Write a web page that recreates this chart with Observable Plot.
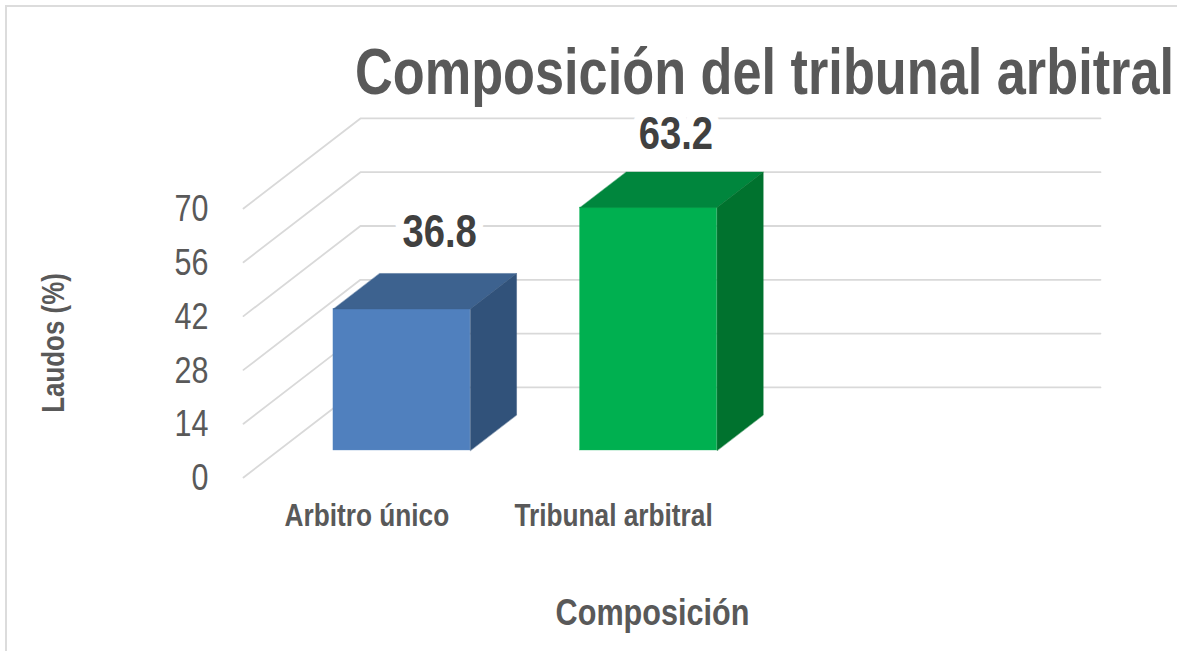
<!DOCTYPE html>
<html>
<head>
<meta charset="utf-8">
<script src="https://cdn.jsdelivr.net/npm/d3@7"></script>
<script src="https://cdn.jsdelivr.net/npm/@observablehq/plot@0.6"></script>
<style>
html,body{margin:0;padding:0;background:#fff;width:1177px;height:651px;overflow:hidden}
#wrap{position:relative;width:1177px;height:651px;font-family:"Liberation Sans",Arial,sans-serif}
#frame{position:absolute;left:5px;top:5px;right:0;bottom:0;border-top:2px solid #dcdcdc;border-left:2px solid #dcdcdc;pointer-events:none}
#title{position:absolute;left:0;top:0;width:1177px;height:100px;margin:0;font-weight:700;font-size:65px;line-height:1;color:#595959;white-space:nowrap}
#title span{position:absolute;left:355px;top:39px;transform-origin:0 50%}
#chart{position:absolute;left:0;top:100px}
svg{display:block}
</style>
</head>
<body>
<div id="wrap">
  <div id="frame"></div>
  <h1 id="title"><span>Composición del tribunal arbitral</span></h1>
  <div id="chart"></div>
</div>
<script>
const categories = ["Arbitro único", "Tribunal arbitral"];
const values = [36.8, 63.2];
const yTicks = [0, 14, 28, 42, 56, 70];
const xTicks = [0, 1];
const frontColors = ["#5080be", "#00b050"];
const topColors = ["#3d628f", "#00863d"];
const sideColors = ["#31527a", "#00722e"];

// oblique projection of the 3D box: one unit of depth in x (slots) and y (percent)
const depthX = 0.474, depthY = 23.44;
const slotStart = -0.5, slotEnd = 2.5;
const barWidth = 0.555, barFront = 0.3, barBack = 0.695;
const labelShift = [0.059, 0.017];
const labelLift = [0.8, 0];
const project = (x, v, d) => ({px: x + d * depthX, py: v + d * depthY});

const grid = yTicks.flatMap(t => [
  {t, ...project(slotStart, t, 0)},
  {t, ...project(slotStart, t, 1)},
  {t, ...project(slotEnd, t, 1)}
]);

const bars = values.map((v, i) => ({
  i, v,
  xa: i - barWidth / 2,
  xb: i + barWidth / 2
}));

const front = bars.map(({i, v, xa, xb}) => ({
  x1: project(xa, 0, barFront).px, x2: project(xb, 0, barFront).px,
  y1: project(xa, 0, barFront).py, y2: project(xa, v, barFront).py,
  fill: frontColors[i]
}));
const topFace = bars.flatMap(({i, v, xa, xb}) => [
  project(xa, v, barFront), project(xb, v, barFront),
  project(xb, v, barBack), project(xa, v, barBack)
].map(p => ({...p, i, fill: topColors[i]})));
const sideFace = bars.flatMap(({i, v, xb}) => [
  project(xb, 0, barFront), project(xb, v, barFront),
  project(xb, v, barBack), project(xb, 0, barBack)
].map(p => ({...p, i, fill: sideColors[i]})));
const labels = bars.map(({i, v}) => ({
  px: project(i + labelShift[i], v, (barFront + barBack) / 2).px,
  py: project(i, v + labelLift[i], barBack).py,
  text: v.toFixed(1)
}));

const chart = Plot.plot({
  width: 1177,
  height: 551,
  marginLeft: 243,
  marginRight: 116,
  marginTop: 108,
  marginBottom: 174,
  style: {background: "transparent", fontFamily: '"Liberation Sans",Arial,sans-serif', overflow: "visible"},
  x: {domain: [slotStart, 2.816], axis: null},
  y: {domain: [0, 70], axis: null},
  color: {type: "identity"},
  marks: [
    Plot.line(grid, {x: "px", y: "py", z: "t", stroke: "#d9d9d9", strokeWidth: 1.8}),
    Plot.rect(front, {x1: "x1", x2: "x2", y1: "y1", y2: "y2", fill: "fill", stroke: "fill", strokeWidth: 0.4}),
    Plot.line(topFace, {x: "px", y: "py", z: "i", fill: "fill", stroke: "fill", strokeWidth: 0.4, curve: "linear-closed"}),
    Plot.line(sideFace, {x: "px", y: "py", z: "i", fill: "fill", stroke: "fill", strokeWidth: 0.4, curve: "linear-closed"}),
    Plot.text(labels, {x: "px", y: "py", text: "text", dy: -38, fontSize: 46, fontWeight: 700, fill: "#404040", stroke: "white", strokeWidth: 20, paintOrder: "stroke"}),
    Plot.axisY({ticks: yTicks, tickSize: 0, tickPadding: 35, dy: 1, fontSize: 36.5, fill: "#595959", label: null}),
    Plot.axisY({ticks: [], tickSize: 0, label: "Laudos (%)", labelArrow: "none", labelAnchor: "center", labelOffset: 202, fontSize: 31, fontWeight: 700, fill: "#595959"}),
    Plot.axisX({ticks: xTicks, tickSize: 0, tickPadding: 26, tickFormat: i => categories[i], fontSize: 32, fontWeight: 700, fill: "#595959", label: null}),
    Plot.axisX({ticks: [], tickSize: 0, label: "Composición", labelArrow: "none", labelAnchor: "center", labelOffset: 147, fontSize: 36, fontWeight: 700, fill: "#595959"})
  ]
});
document.getElementById("chart").appendChild(chart);

// the reference's type is condensed: squeeze glyphs horizontally, by font size
const squeeze = {46: 0.83, 36.5: 0.835, 32: 0.82, 31: 0.836, 36: 0.85};
chart.querySelectorAll("text").forEach(t => {
  const k = squeeze[parseFloat(getComputedStyle(t).fontSize)];
  if (!k) return;
  t.setAttribute("lengthAdjust", "spacingAndGlyphs");
  t.setAttribute("textLength", t.getComputedTextLength() * k);
});
const span = document.querySelector("#title span");
span.style.transform = `scaleX(${819 / span.getBoundingClientRect().width})`;
</script>
</body>
</html>
